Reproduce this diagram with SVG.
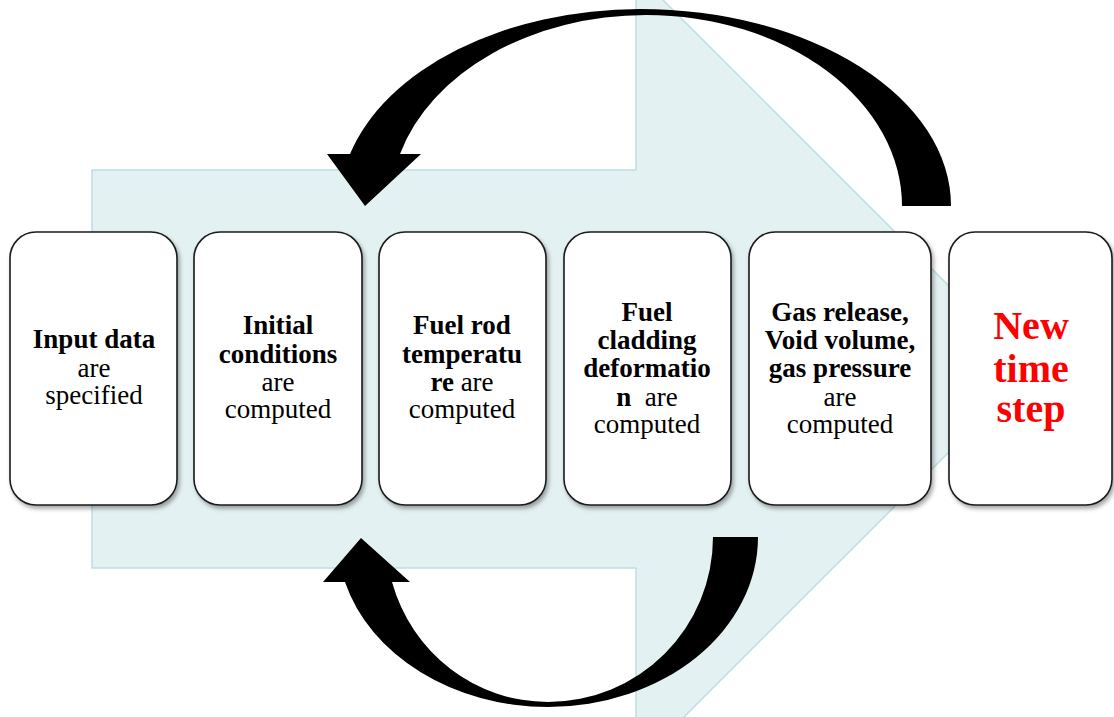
<svg xmlns="http://www.w3.org/2000/svg" width="1114" height="717" viewBox="0 0 1114 717">
<defs>
<filter id="sh" x="-10%" y="-10%" width="130%" height="130%">
<feDropShadow dx="2" dy="3" stdDeviation="2" flood-color="#000" flood-opacity="0.35"/>
</filter>
</defs>
<style>
.bg{fill:#e4f1f3;stroke:#bcdfe3;stroke-width:1.5}
.box{fill:#fff;stroke:#1a1a1a;stroke-width:1.6;filter:url(#sh)}
.t{font-family:"Liberation Serif","Times New Roman",serif;font-size:27px;text-anchor:middle;fill:#000}
.b{font-weight:bold}
.red{font-family:"Liberation Serif","Times New Roman",serif;font-size:40px;font-weight:bold;text-anchor:middle;fill:#ff0000}
.arr{fill:#000}
</style>
<rect width="1114" height="717" fill="#fff"/>
<g id="background-arrow">
<path class="bg" d="M92,170 L636,170 L636,-27 L1032,369 L636,765 L636,568 L92,568 Z"/>
</g>
<g id="node1">
<rect class="box" x="10" y="232" width="167" height="273" rx="26"/>
<text class="t" x="94" y="348"><tspan class="b">Input data</tspan></text>
<text class="t" x="94" y="377">are</text>
<text class="t" x="94" y="404">specified</text>
</g>
<g id="node2">
<rect class="box" x="194" y="232" width="168" height="273" rx="26"/>
<text class="t b" x="278" y="334">Initial</text>
<text class="t b" x="278" y="363">conditions</text>
<text class="t" x="278" y="391">are</text>
<text class="t" x="278" y="418">computed</text>
</g>
<g id="node3">
<rect class="box" x="379" y="232" width="167" height="273" rx="26"/>
<text class="t b" x="462" y="334">Fuel rod</text>
<text class="t b" x="462" y="363">temperatu</text>
<text class="t" x="462" y="391"><tspan font-weight="bold">re</tspan> are</text>
<text class="t" x="462" y="418">computed</text>
</g>
<g id="node4">
<rect class="box" x="564" y="232" width="167" height="273" rx="26"/>
<text class="t b" x="647" y="321">Fuel</text>
<text class="t b" x="647" y="349">cladding</text>
<text class="t b" x="647" y="377">deformatio</text>
<text class="t" x="647" y="406" style="white-space:pre"><tspan font-weight="bold">n</tspan>  are</text>
<text class="t" x="647" y="433">computed</text>
</g>
<g id="node5">
<rect class="box" x="749" y="232" width="182" height="273" rx="26"/>
<text class="t b" x="840" y="321">Gas release,</text>
<text class="t b" x="840" y="349">Void volume,</text>
<text class="t b" x="840" y="377">gas pressure</text>
<text class="t" x="840" y="406">are</text>
<text class="t" x="840" y="433">computed</text>
</g>
<g id="node6">
<rect class="box" x="949" y="232" width="163" height="273" rx="26"/>
<text class="red" x="1031" y="339">New</text>
<text class="red" x="1031" y="382">time</text>
<text class="red" x="1031" y="422">step</text>
</g>
<g id="connectors">
<path class="arr" d="M951,206 A311,197 0 0 0 640,9 A301,197 0 0 0 350,154 L327,154 L365,206 L421,154 L400,154 A256,191 0 0 1 646,15 A256,191 0 0 1 902,206 Z"/>
<path class="arr" d="M758,537 A210,170 0 0 1 548,707 A211,170 0 0 1 345,582 L323,582 L361,538 L410,582 L392,582 A162,165 0 0 0 548,702 A165,165 0 0 0 713,537 Z"/>
</g>
</svg>
